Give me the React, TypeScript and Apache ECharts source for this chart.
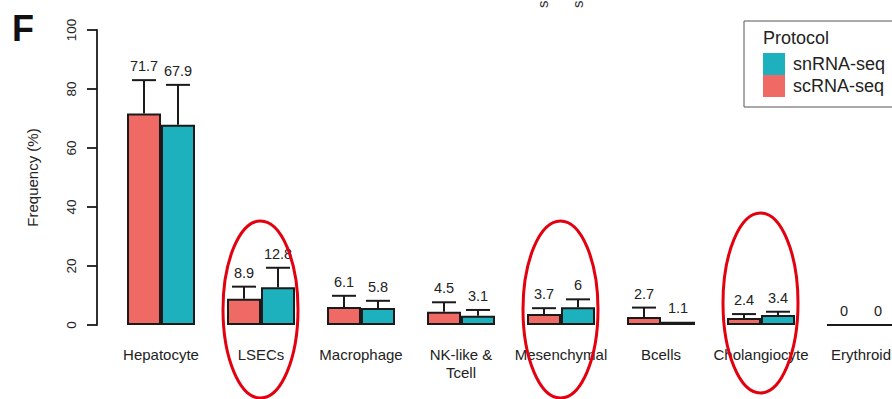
import React, { useEffect, useRef } from "react";
import * as echarts from "echarts";

// Cell-type composition by protocol (mean frequency, % of cells, with upper SD whiskers)
const categories = [
  "Hepatocyte",
  "LSECs",
  "Macrophage",
  "NK-like &\nTcell",
  "Mesenchymal",
  "Bcells",
  "Cholangiocyte",
  "Erythroid",
];
const scRNA = [71.7, 8.9, 6.1, 4.5, 3.7, 2.7, 2.4, 0];
const snRNA = [67.9, 12.8, 5.8, 3.1, 6, 1.1, 3.4, 0];
const scErr = [11.3, 4.1, 3.8, 3.2, 2.0, 3.2, 1.3, 0];
const snErr = [13.5, 6.6, 2.4, 2.0, 2.7, 0, 1.1, 0];
const yTicks = { min: 0, max: 100, interval: 20 };
const highlighted = ["LSECs", "Mesenchymal", "Cholangiocyte"];

const RED = "#EF6A65";
const TEAL = "#1DB0BD";
const INK = "#1a1a1a";
const FONT = "'Liberation Sans', Arial, Helvetica, sans-serif";
const BAR_W = 34;

export default function App() {
  const ref = useRef<HTMLDivElement>(null);

  useEffect(() => {
    if (!ref.current) return;
    const chart = echarts.init(ref.current, undefined, { renderer: "svg" });

    const errData: number[][] = [];
    categories.forEach((_, i) => {
      errData.push([i, 0, scRNA[i], scErr[i]]);
      errData.push([i, 1, snRNA[i], snErr[i]]);
    });

    const option: any = {
      animation: false,
      textStyle: { fontFamily: FONT },
      // the chart canvas is wider than the visible panel; the last group runs past its edge
      grid: { left: 111, top: 30, right: 9, bottom: 74, outerBoundsMode: "none" },
      legend: {
        data: ["snRNA-seq", "scRNA-seq"],
        orient: "vertical",
        left: 763,
        top: 53,
        padding: 0,
        itemWidth: 22,
        itemHeight: 22,
        itemGap: 0,
        icon: "rect",
        selectedMode: false,
        itemStyle: { borderWidth: 0 },
        textStyle: { fontSize: 18, color: "#222", fontFamily: FONT, padding: [0, 0, 0, 3] },
      },
      xAxis: {
        type: "category",
        data: categories,
        axisLine: { show: false },
        axisTick: { show: false },
        axisLabel: {
          interval: 0,
          fontSize: 15,
          lineHeight: 18,
          color: "#222",
          margin: 20,
          fontFamily: FONT,
        },
      },
      yAxis: {
        type: "value",
        min: yTicks.min,
        max: yTicks.max,
        interval: yTicks.interval,
        offset: 14,
        name: "Frequency (%)",
        nameLocation: "middle",
        nameRotate: 90,
        nameGap: 57,
        nameTextStyle: { fontSize: 15, color: "#222", fontFamily: FONT },
        axisLine: { show: true, lineStyle: { color: INK, width: 1.8 } },
        axisTick: { show: true, length: 10, lineStyle: { color: INK, width: 1.8 } },
        splitLine: { show: false },
        axisLabel: { rotate: 90, fontSize: 13.5, color: "#222", margin: 19, fontFamily: FONT },
      },
      series: [
        {
          name: "scRNA-seq",
          type: "bar",
          data: scRNA,
          barWidth: BAR_W,
          barGap: "0%",
          itemStyle: { color: RED, borderColor: INK, borderWidth: 2 },
        },
        {
          name: "snRNA-seq",
          type: "bar",
          data: snRNA,
          barWidth: BAR_W,
          barGap: "0%",
          itemStyle: { color: TEAL, borderColor: INK, borderWidth: 2 },
        },
        {
          name: "whiskers",
          type: "custom",
          data: errData,
          z: 5,
          renderItem: (params: any, api: any) => {
            const cat = api.value(0);
            const s = api.value(1);
            const v = api.value(2);
            const e = api.value(3);
            const base = api.coord([cat, v]);
            const x = base[0] + (s === 0 ? -1 : 1) * (BAR_W / 2);
            const yV = base[1];
            const yT = api.coord([cat, v + e])[1];
            const children: any[] = [];
            if (e > 0) {
              children.push({
                type: "line",
                shape: { x1: x, y1: yV, x2: x, y2: yT },
                style: { stroke: INK, lineWidth: 2 },
              });
              children.push({
                type: "line",
                shape: { x1: x - 12, y1: yT, x2: x + 12, y2: yT },
                style: { stroke: INK, lineWidth: 2 },
              });
            }
            children.push({
              type: "text",
              style: {
                text: String(v),
                x,
                y: Math.min(yV, yT) - 14,
                align: "center",
                verticalAlign: "middle",
                fontSize: 14.5,
                fill: "#222",
                fontFamily: FONT,
              },
            });
            return { type: "group", children };
          },
        },
      ],
    };

    chart.setOption(option);

    // Red outlines around the highlighted cell types, placed on their category centres
    const rings = highlighted.map((name, k) => {
      const idx = categories.indexOf(name);
      const p = chart.convertToPixel({ gridIndex: 0 }, [idx, 0]) as number[];
      const cy = k === 2 ? 303 : 309.5;
      const ry = k === 2 ? 90 : 88.5;
      return {
        type: "ellipse",
        shape: { cx: p[0] - 0.5, cy, rx: 37.5, ry },
        style: { fill: "none", stroke: "#E3000F", lineWidth: 3 },
        z: 100,
      };
    });

    chart.setOption({
      graphic: [
        {
          type: "text",
          left: 12,
          top: 10,
          style: { text: "F", fontSize: 36, fontWeight: "bold", fill: "#111", fontFamily: FONT },
        },
        {
          type: "rect",
          shape: { x: 744, y: 21, width: 200, height: 86 },
          style: { fill: "none", stroke: "#555", lineWidth: 1 },
        },
        {
          type: "text",
          x: 763,
          y: 38,
          style: {
            text: "Protocol",
            fontSize: 18,
            fill: "#222",
            verticalAlign: "middle",
            fontFamily: FONT,
          },
        },
        {
          type: "text",
          x: 542,
          y: 8,
          rotation: Math.PI / 2,
          style: { text: "scRNA-seq", fontSize: 15, fill: "#333", align: "left", verticalAlign: "middle", fontFamily: FONT },
        },
        {
          type: "text",
          x: 577,
          y: 8,
          rotation: Math.PI / 2,
          style: { text: "snRNA-seq", fontSize: 15, fill: "#333", align: "left", verticalAlign: "middle", fontFamily: FONT },
        },
        ...rings,
      ],
    });

    return () => chart.dispose();
  }, []);

  return (
    <div
      style={{
        position: "absolute",
        left: 0,
        top: 0,
        width: 892,
        height: 399,
        overflow: "hidden",
        background: "#fff",
      }}
    >
      <div ref={ref} style={{ width: 920, height: 399 }} />
    </div>
  );
}
